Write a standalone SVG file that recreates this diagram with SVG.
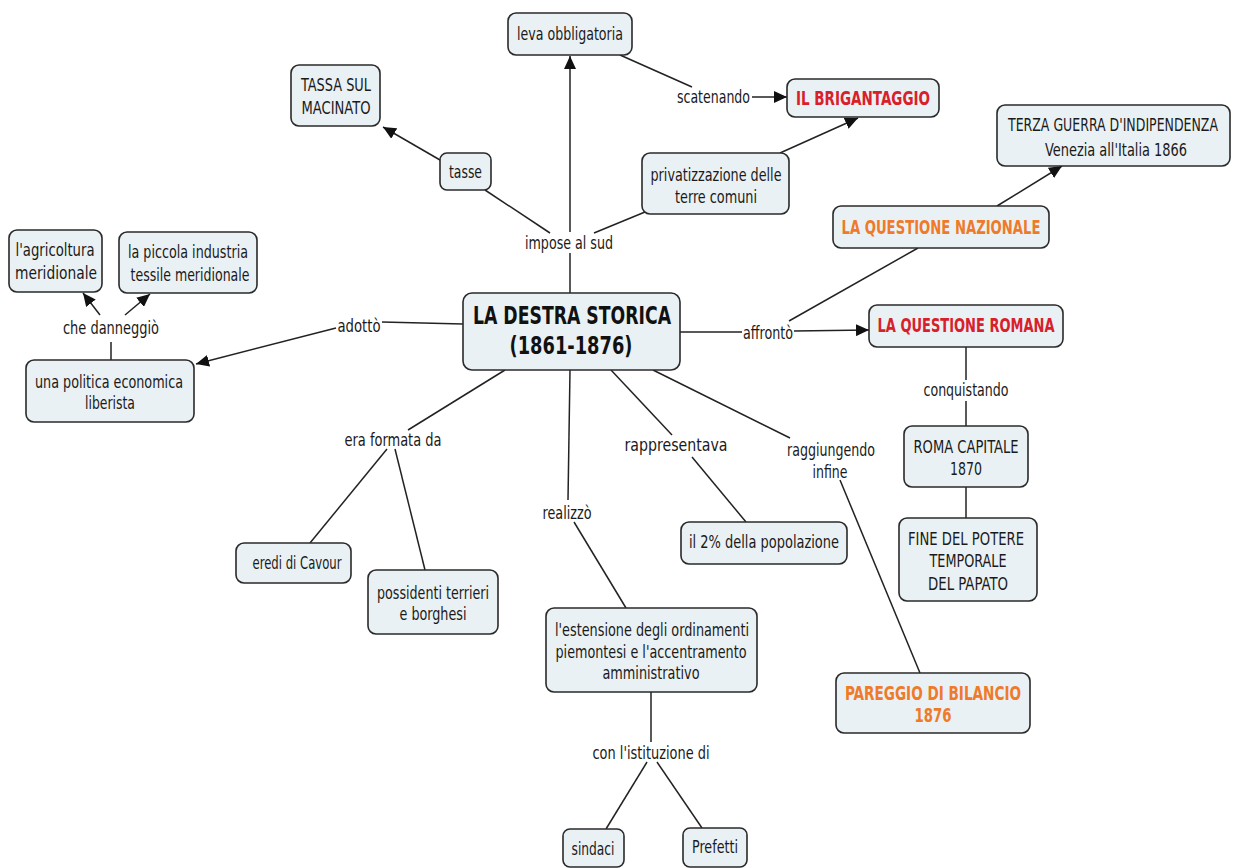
<svg xmlns="http://www.w3.org/2000/svg" width="1238" height="868" viewBox="0 0 1238 868">
<style>
.bg{fill:#ffffff}
.n rect{fill:#eaf1f4;stroke:#2a2a2a;stroke-width:1.6}
text{font-family:"DejaVu Sans Condensed","DejaVu Sans",sans-serif;font-stretch:condensed;font-size:17px;fill:#1a1a1a;text-anchor:middle}
.b{font-weight:bold;font-size:19px}
.t{font-weight:bold;font-size:25px;fill:#111}
.red{fill:#d8202b}
.org{fill:#ee7a2a}
.c line{stroke:#222;stroke-width:1.5;fill:none}
</style>
<defs>
<marker id="ah" markerUnits="userSpaceOnUse" markerWidth="14" markerHeight="12" refX="13" refY="6" orient="auto">
<path d="M0,0 L13,6 L0,12 z" fill="#111"/>
</marker>
</defs>
<rect class="bg" x="0" y="0" width="1238" height="868"/>
<g class="c" id="connectors">
<line x1="570" y1="293" x2="570" y2="253"/>
<line x1="570" y1="232" x2="570" y2="56" marker-end="url(#ah)"/>
<line x1="550" y1="233" x2="485" y2="190"/>
<line x1="440" y1="160" x2="383" y2="127" marker-end="url(#ah)"/>
<line x1="594" y1="233" x2="645" y2="212"/>
<line x1="620" y1="55" x2="692" y2="87"/>
<line x1="752" y1="97" x2="787" y2="97" marker-end="url(#ah)"/>
<line x1="780" y1="153" x2="858" y2="118" marker-end="url(#ah)"/>
<line x1="680" y1="332" x2="742" y2="332"/>
<line x1="794" y1="331" x2="869" y2="330" marker-end="url(#ah)"/>
<line x1="789" y1="321" x2="918" y2="248"/>
<line x1="997" y1="206" x2="1062" y2="166" marker-end="url(#ah)"/>
<line x1="966" y1="347" x2="966" y2="380"/>
<line x1="966" y1="401" x2="966" y2="426"/>
<line x1="966" y1="487" x2="966" y2="518"/>
<line x1="463" y1="324" x2="382" y2="322"/>
<line x1="336" y1="328" x2="196" y2="364" marker-end="url(#ah)"/>
<line x1="111" y1="360" x2="111" y2="342"/>
<line x1="100" y1="315" x2="83" y2="293" marker-end="url(#ah)"/>
<line x1="125" y1="315" x2="150" y2="294" marker-end="url(#ah)"/>
<line x1="505" y1="370" x2="408" y2="430"/>
<line x1="387" y1="449" x2="310" y2="543"/>
<line x1="395" y1="449" x2="425" y2="570"/>
<line x1="570" y1="370" x2="568" y2="500"/>
<line x1="574" y1="522" x2="626" y2="608"/>
<line x1="651" y1="692" x2="651" y2="742"/>
<line x1="647" y1="762" x2="606" y2="829"/>
<line x1="657" y1="762" x2="702" y2="828"/>
<line x1="611" y1="370" x2="672" y2="435"/>
<line x1="692" y1="457" x2="746" y2="522"/>
<line x1="653" y1="370" x2="790" y2="438"/>
<line x1="840" y1="480" x2="920" y2="673"/>
</g>
<g id="labels">
<text x="569" y="249" textLength="88" lengthAdjust="spacingAndGlyphs">impose al sud</text>
<text x="713.5" y="103" textLength="73" lengthAdjust="spacingAndGlyphs">scatenando</text>
<text x="768" y="339" textLength="50" lengthAdjust="spacingAndGlyphs">affrontò</text>
<text x="966" y="396" textLength="85" lengthAdjust="spacingAndGlyphs">conquistando</text>
<text x="111" y="334" textLength="96" lengthAdjust="spacingAndGlyphs">che danneggiò</text>
<text x="359" y="332" textLength="43" lengthAdjust="spacingAndGlyphs">adottò</text>
<text x="393" y="446" textLength="97" lengthAdjust="spacingAndGlyphs">era formata da</text>
<text x="567" y="519" textLength="49" lengthAdjust="spacingAndGlyphs">realizzò</text>
<text x="651" y="759" textLength="117" lengthAdjust="spacingAndGlyphs">con l'istituzione di</text>
<text x="676" y="450.5" textLength="103" lengthAdjust="spacingAndGlyphs">rappresentava</text>
<text x="831" y="456" textLength="88" lengthAdjust="spacingAndGlyphs">raggiungendo</text>
<text x="830" y="478" textLength="35" lengthAdjust="spacingAndGlyphs">infine</text>
</g>
<g class="n" id="n-destra"><rect x="463" y="293" width="217" height="77" rx="9"/>
<text class="t" x="572" y="324" textLength="198" lengthAdjust="spacingAndGlyphs">LA DESTRA STORICA</text>
<text class="t" x="571" y="354" textLength="123" lengthAdjust="spacingAndGlyphs">(1861-1876)</text></g>
<g class="n" id="n-leva"><rect x="508" y="13" width="124" height="42" rx="8"/>
<text x="570" y="40" textLength="106" lengthAdjust="spacingAndGlyphs">leva obbligatoria</text></g>
<g class="n" id="n-tassa"><rect x="291" y="65" width="89" height="61" rx="8"/>
<text x="336" y="91" textLength="70" lengthAdjust="spacingAndGlyphs">TASSA SUL</text>
<text x="336" y="113.5" textLength="69" lengthAdjust="spacingAndGlyphs">MACINATO</text></g>
<g class="n" id="n-tasse"><rect x="440" y="153" width="51" height="37" rx="7"/>
<text x="465.5" y="178" textLength="33" lengthAdjust="spacingAndGlyphs">tasse</text></g>
<g class="n" id="n-priv"><rect x="642" y="153" width="147" height="61" rx="8"/>
<text x="716" y="181" textLength="131" lengthAdjust="spacingAndGlyphs">privatizzazione delle</text>
<text x="716" y="203" textLength="82" lengthAdjust="spacingAndGlyphs">terre comuni</text></g>
<g class="n" id="n-brig"><rect x="787" y="79" width="152" height="38" rx="8"/>
<text class="b red" x="863" y="105" textLength="134" lengthAdjust="spacingAndGlyphs">IL BRIGANTAGGIO</text></g>
<g class="n" id="n-terza"><rect x="997" y="105" width="233" height="61" rx="8"/>
<text x="1113" y="131" textLength="210" lengthAdjust="spacingAndGlyphs">TERZA GUERRA D'INDIPENDENZA</text>
<text x="1116" y="156" textLength="142" lengthAdjust="spacingAndGlyphs">Venezia all'Italia 1866</text></g>
<g class="n" id="n-naz"><rect x="833" y="206" width="216" height="42" rx="8"/>
<text class="b org" x="941" y="234" textLength="199" lengthAdjust="spacingAndGlyphs">LA QUESTIONE NAZIONALE</text></g>
<g class="n" id="n-romana"><rect x="869" y="305" width="194" height="42" rx="8"/>
<text class="b red" x="966" y="332" textLength="177" lengthAdjust="spacingAndGlyphs">LA QUESTIONE ROMANA</text></g>
<g class="n" id="n-roma"><rect x="904" y="426" width="124" height="61" rx="8"/>
<text x="966" y="452.5" textLength="105" lengthAdjust="spacingAndGlyphs">ROMA CAPITALE</text>
<text x="966" y="474.5" textLength="32" lengthAdjust="spacingAndGlyphs">1870</text></g>
<g class="n" id="n-fine"><rect x="899" y="518" width="138" height="83" rx="8"/>
<text x="966" y="544.5" textLength="116" lengthAdjust="spacingAndGlyphs">FINE DEL POTERE</text>
<text x="968" y="566.5" textLength="77" lengthAdjust="spacingAndGlyphs">TEMPORALE</text>
<text x="968" y="589.5" textLength="80" lengthAdjust="spacingAndGlyphs">DEL PAPATO</text></g>
<g class="n" id="n-agri"><rect x="9" y="230" width="93" height="62" rx="8"/>
<text x="55" y="256" textLength="79" lengthAdjust="spacingAndGlyphs">l'agricoltura</text>
<text x="56" y="279" textLength="82" lengthAdjust="spacingAndGlyphs">meridionale</text></g>
<g class="n" id="n-piccola"><rect x="119" y="232" width="138" height="61" rx="8"/>
<text x="188" y="258" textLength="120" lengthAdjust="spacingAndGlyphs">la piccola industria</text>
<text x="190" y="281" textLength="119" lengthAdjust="spacingAndGlyphs">tessile meridionale</text></g>
<g class="n" id="n-politica"><rect x="26" y="360" width="168" height="62" rx="8"/>
<text x="109" y="388" textLength="148" lengthAdjust="spacingAndGlyphs">una politica economica</text>
<text x="110" y="409" textLength="50" lengthAdjust="spacingAndGlyphs">liberista</text></g>
<g class="n" id="n-eredi"><rect x="236" y="543" width="115" height="40" rx="8"/>
<text x="297" y="569" textLength="89" lengthAdjust="spacingAndGlyphs">eredi di Cavour</text></g>
<g class="n" id="n-possidenti"><rect x="368" y="570" width="130" height="64" rx="8"/>
<text x="433" y="599" textLength="112" lengthAdjust="spacingAndGlyphs">possidenti terrieri</text>
<text x="433" y="620" textLength="67" lengthAdjust="spacingAndGlyphs">e borghesi</text></g>
<g class="n" id="n-estensione"><rect x="546" y="608" width="211" height="84" rx="8"/>
<text x="652" y="636" textLength="194" lengthAdjust="spacingAndGlyphs">l'estensione degli ordinamenti</text>
<text x="651" y="658" textLength="191" lengthAdjust="spacingAndGlyphs">piemontesi e l'accentramento</text>
<text x="651" y="679" textLength="97" lengthAdjust="spacingAndGlyphs">amministrativo</text></g>
<g class="n" id="n-sindaci"><rect x="563" y="829" width="61" height="38" rx="7"/>
<text x="593" y="855" textLength="43" lengthAdjust="spacingAndGlyphs">sindaci</text></g>
<g class="n" id="n-prefetti"><rect x="683" y="828" width="64" height="39" rx="7"/>
<text x="715" y="853" textLength="46" lengthAdjust="spacingAndGlyphs">Prefetti</text></g>
<g class="n" id="n-2perc"><rect x="681" y="522" width="166" height="42" rx="8"/>
<text x="764" y="548" textLength="150" lengthAdjust="spacingAndGlyphs">il 2% della popolazione</text></g>
<g class="n" id="n-pareggio"><rect x="836" y="673" width="194" height="60" rx="8"/>
<text class="b org" x="933" y="700" textLength="176" lengthAdjust="spacingAndGlyphs">PAREGGIO DI BILANCIO</text>
<text class="b org" x="933" y="722" textLength="37" lengthAdjust="spacingAndGlyphs">1876</text></g>
</svg>
